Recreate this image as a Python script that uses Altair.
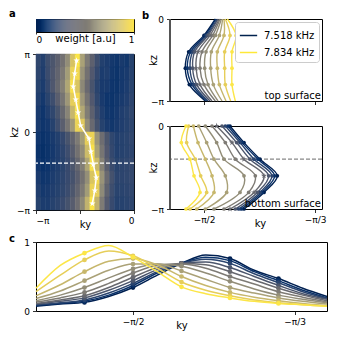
import altair as alt
import pandas as pd

# ---------------- data (k in units of pi) ----------------
# panel a: heatmap, 12 kz rows (top = pi) x 20 ky columns (-pi .. 0)
HM_ROWS = [
    [0.22, 0.18, 0.26, 0.30, 0.36, 0.45, 0.60, 0.85, 1.00, 0.70, 0.50, 0.36, 0.26, 0.18, 0.16, 0.14, 0.12, 0.15, 0.13, 0.19],
    [0.21, 0.17, 0.25, 0.31, 0.38, 0.49, 0.67, 0.92, 0.95, 0.63, 0.45, 0.32, 0.23, 0.16, 0.17, 0.13, 0.11, 0.14, 0.15, 0.19],
    [0.19, 0.16, 0.23, 0.31, 0.40, 0.53, 0.72, 0.98, 0.86, 0.57, 0.41, 0.29, 0.20, 0.15, 0.15, 0.12, 0.11, 0.14, 0.16, 0.20],
    [0.17, 0.14, 0.20, 0.26, 0.35, 0.47, 0.65, 0.90, 0.95, 0.65, 0.46, 0.32, 0.22, 0.15, 0.12, 0.11, 0.13, 0.15, 0.17, 0.21],
    [0.15, 0.12, 0.17, 0.22, 0.29, 0.40, 0.55, 0.80, 0.98, 0.73, 0.52, 0.36, 0.25, 0.17, 0.13, 0.12, 0.14, 0.17, 0.19, 0.22],
    [0.15, 0.12, 0.14, 0.19, 0.26, 0.35, 0.47, 0.66, 0.92, 0.88, 0.60, 0.41, 0.28, 0.19, 0.15, 0.13, 0.15, 0.17, 0.19, 0.21],
    [0.12, 0.10, 0.12, 0.15, 0.18, 0.23, 0.29, 0.38, 0.50, 0.67, 0.90, 0.92, 0.64, 0.43, 0.30, 0.22, 0.18, 0.19, 0.20, 0.22],
    [0.10, 0.09, 0.11, 0.14, 0.17, 0.21, 0.26, 0.34, 0.45, 0.59, 0.82, 0.98, 0.70, 0.47, 0.32, 0.23, 0.18, 0.19, 0.20, 0.21],
    [0.12, 0.10, 0.12, 0.15, 0.17, 0.20, 0.24, 0.30, 0.39, 0.52, 0.72, 0.98, 0.81, 0.54, 0.35, 0.25, 0.20, 0.21, 0.22, 0.23],
    [0.15, 0.12, 0.13, 0.16, 0.18, 0.21, 0.24, 0.28, 0.35, 0.45, 0.61, 0.86, 0.95, 0.63, 0.41, 0.28, 0.21, 0.21, 0.22, 0.23],
    [0.17, 0.14, 0.15, 0.17, 0.19, 0.22, 0.25, 0.30, 0.38, 0.49, 0.67, 0.92, 0.90, 0.58, 0.37, 0.26, 0.20, 0.20, 0.21, 0.22],
    [0.19, 0.16, 0.16, 0.19, 0.21, 0.24, 0.28, 0.34, 0.43, 0.57, 0.78, 1.00, 0.78, 0.50, 0.33, 0.24, 0.19, 0.19, 0.20, 0.21],
]
HM_KY_START, HM_KY_STEP = -1.0, 0.05
HM_KZ_START, HM_KZ_STEP = 1.0, 1.0 / 6
STAR_KY = [-0.586, -0.605, -0.620, -0.595, -0.570, -0.545, -0.460, -0.440, -0.415, -0.385, -0.400, -0.425]
DASH_KZ = -0.4

# panel b: kz samples and ky of each curve (0 = 7.518 kHz ... 10 = 7.834 kHz)
KZ_B = [0.0, -0.2, -0.4, -0.6, -0.8, -1.0]
TOP_CURVES = [
    [-0.483, -0.500, -0.523, -0.528, -0.522, -0.498],
    [-0.482, -0.498, -0.520, -0.525, -0.518, -0.496],
    [-0.480, -0.496, -0.517, -0.521, -0.515, -0.494],
    [-0.479, -0.494, -0.514, -0.517, -0.511, -0.491],
    [-0.477, -0.491, -0.509, -0.512, -0.506, -0.488],
    [-0.476, -0.487, -0.503, -0.506, -0.500, -0.483],
    [-0.474, -0.483, -0.497, -0.499, -0.494, -0.479],
    [-0.472, -0.477, -0.489, -0.490, -0.486, -0.473],
    [-0.470, -0.470, -0.480, -0.480, -0.477, -0.467],
    [-0.468, -0.461, -0.469, -0.469, -0.468, -0.460],
    [-0.465, -0.452, -0.458, -0.458, -0.458, -0.453],
]
BOT_CURVES = [
    [-0.461, -0.440, -0.416, -0.390, -0.410, -0.440],
    [-0.464, -0.443, -0.419, -0.394, -0.413, -0.444],
    [-0.468, -0.446, -0.425, -0.398, -0.416, -0.448],
    [-0.473, -0.451, -0.431, -0.403, -0.420, -0.453],
    [-0.481, -0.458, -0.440, -0.410, -0.425, -0.461],
    [-0.488, -0.468, -0.453, -0.423, -0.433, -0.470],
    [-0.498, -0.481, -0.470, -0.440, -0.446, -0.485],
    [-0.508, -0.496, -0.485, -0.468, -0.466, -0.498],
    [-0.516, -0.509, -0.498, -0.488, -0.485, -0.511],
    [-0.523, -0.526, -0.513, -0.505, -0.496, -0.521],
    [-0.527, -0.534, -0.521, -0.515, -0.506, -0.527],
]
STAR_CURVE = 4
LEGEND_LABELS = ["7.518 kHz", "7.834 kHz"]

# panel c: weight vs ky for each curve
C_KY = [-0.600, -0.575, -0.550, -0.525, -0.500, -0.475, -0.450, -0.425, -0.400, -0.375, -0.350, -0.325, -0.300]
C_DOT_KY = [-0.550, -0.500, -0.450, -0.400, -0.350]
C_CURVES = [
    [0.07, 0.10, 0.125, 0.21, 0.34, 0.52, 0.69, 0.81, 0.76, 0.59, 0.47, 0.33, 0.21],
    [0.08, 0.11, 0.14, 0.23, 0.37, 0.55, 0.69, 0.78, 0.73, 0.57, 0.44, 0.30, 0.19],
    [0.09, 0.12, 0.16, 0.26, 0.40, 0.57, 0.69, 0.75, 0.69, 0.54, 0.41, 0.28, 0.18],
    [0.10, 0.14, 0.19, 0.30, 0.44, 0.60, 0.69, 0.71, 0.63, 0.50, 0.37, 0.25, 0.17],
    [0.11, 0.16, 0.22, 0.34, 0.49, 0.63, 0.69, 0.67, 0.57, 0.45, 0.33, 0.23, 0.15],
    [0.13, 0.19, 0.27, 0.40, 0.55, 0.66, 0.68, 0.62, 0.50, 0.39, 0.28, 0.20, 0.13],
    [0.15, 0.23, 0.34, 0.48, 0.61, 0.68, 0.65, 0.55, 0.43, 0.32, 0.23, 0.17, 0.12],
    [0.18, 0.29, 0.44, 0.59, 0.68, 0.68, 0.58, 0.46, 0.34, 0.26, 0.19, 0.14, 0.10],
    [0.22, 0.38, 0.57, 0.72, 0.76, 0.67, 0.50, 0.37, 0.27, 0.20, 0.15, 0.11, 0.08],
    [0.28, 0.52, 0.74, 0.87, 0.80, 0.62, 0.42, 0.30, 0.22, 0.16, 0.12, 0.09, 0.07],
    [0.33, 0.66, 0.84, 0.95, 0.78, 0.57, 0.35, 0.25, 0.19, 0.14, 0.11, 0.09, 0.07],
]

# ---------------- style ----------------
FONT = "DejaVu Sans"
NAVY, YELLOW = "#00224e", "#fee838"
STAR = ("M0,-1L0.2245,-0.309L0.951,-0.309L0.363,0.118L0.588,0.809L0,0.382"
        "L-0.588,0.809L-0.363,0.118L-0.951,-0.309L-0.2245,-0.309Z")
N = len(TOP_CURVES)
civ = alt.Scale(scheme="cividis", domain=[0, N - 1])
wscale = alt.Scale(scheme="cividis", domain=[0, 1])


def letter(text, dx, dy):
    return alt.Chart(pd.DataFrame({"t": [text]})).mark_text(
        align="left", baseline="alphabetic", fontSize=10, fontWeight="bold", font=FONT, color="black"
    ).encode(text="t:N", x=alt.value(dx), y=alt.value(dy))


# ---------------- panel a ----------------
cb_rect = alt.Chart(alt.sequence(0, 1, 0.01, as_="w")).transform_calculate(
    w2="datum.w + 0.011"
).mark_rect(strokeWidth=0).encode(
    x=alt.X("w:Q", scale=alt.Scale(domain=[0, 1], nice=False),
            axis=alt.Axis(values=[0, 1], format="d", title="weight [a.u]", tickSize=2,
                          labelPadding=1, titleY=9, titleBaseline="alphabetic")),
    x2="w2:Q",
    color=alt.Color("w:Q", scale=wscale, legend=None),
)
cb = alt.layer(cb_rect, letter("a", -27, -2)).properties(width=98, height=13)

hm_records = []
for i, row in enumerate(HM_ROWS):
    for j, w in enumerate(row):
        hm_records.append({
            "ky0": HM_KY_START + j * HM_KY_STEP, "ky1": HM_KY_START + (j + 1) * HM_KY_STEP,
            "kz0": HM_KZ_START - i * HM_KZ_STEP, "kz1": HM_KZ_START - (i + 1) * HM_KZ_STEP, "w": w})
hm_df = pd.DataFrame(hm_records)

hm_rect = alt.Chart(hm_df).mark_rect(strokeWidth=0.5).encode(
    x=alt.X("ky0:Q", scale=alt.Scale(domain=[-1, 0], nice=False, zero=False),
            axis=alt.Axis(values=[-1, -0.55, 0],
                          labelExpr="datum.value == -1 ? '−π' : (datum.value == 0 ? '0' : '')",
                          title="ky", titleY=17, titleBaseline="alphabetic")),
    x2="ky1:Q",
    y=alt.Y("kz0:Q", scale=alt.Scale(domain=[-1, 1], nice=False, zero=False),
            axis=alt.Axis(values=[-1, 0, 1],
                          labelExpr="datum.value == 1 ? 'π' : (datum.value == 0 ? '0' : '−π')",
                          title="kz", titlePadding=-3)),
    y2="kz1:Q",
    color=alt.Color("w:Q", scale=wscale, legend=None),
    stroke=alt.Stroke("w:Q", scale=wscale, legend=None),
)
star_df = pd.DataFrame({"kz": [HM_KZ_START - (i + 0.5) * HM_KZ_STEP for i in range(len(STAR_KY))],
                        "ky": STAR_KY})
star_line = alt.Chart(star_df).mark_line(color="white", strokeWidth=1.5).encode(
    x="ky:Q", y="kz:Q", order="kz:Q")
star_pts = alt.Chart(star_df).mark_point(shape=STAR, filled=True, color="white", size=45, opacity=1).encode(
    x="ky:Q", y="kz:Q")
hm_dash = alt.Chart(pd.DataFrame({"kz": [DASH_KZ]})).mark_rule(
    color="white", strokeDash=[4, 2], strokeWidth=1.2).encode(y="kz:Q")
hm = alt.layer(hm_rect, hm_dash, star_line, star_pts).properties(width=98, height=156)


# ---------------- panel b ----------------
def curve_df(curves):
    rec = []
    for c, kys in enumerate(curves):
        for k, (kz, ky) in enumerate(zip(KZ_B, kys)):
            rec.append({"c": c, "kz": kz, "ky": ky, "k": k, "star": c == STAR_CURVE})
    return pd.DataFrame(rec)


B_W, B_H_TOP, B_H_BOT = 152, 82, 83
B_XSCALE = alt.Scale(domain=[-0.551, -0.323], nice=False, zero=False)
B_YSCALE = alt.Scale(domain=[-1, 0], nice=False, zero=False)
B_YAXIS = alt.Axis(values=[-1, 0], labelExpr="datum.value == 0 ? '0' : '−π'", title="kz", titlePadding=-8)


def left_spine(h):
    return alt.Chart(pd.DataFrame({"s": [0]})).mark_rule(color="#555555", strokeWidth=2).encode(
        x=alt.value(0), y=alt.value(0), y2=alt.value(h))


def b_panel(curves, show_labels, text, dot_filter, h):
    df = curve_df(curves)
    xaxis = alt.Axis(values=[-0.5, -1 / 3],
                     labelExpr="datum.value == -0.5 ? '−π/2' : '−π/3'",
                     labels=show_labels,
                     title="ky" if show_labels else None,
                     titleX=90, titleY=17, titleBaseline="alphabetic")
    base = alt.Chart(df).encode(
        x=alt.X("ky:Q", scale=B_XSCALE, axis=xaxis),
        y=alt.Y("kz:Q", scale=B_YSCALE, axis=B_YAXIS),
        color=alt.Color("c:Q", scale=civ, legend=None),
    )
    lines = base.mark_line(interpolate="catmull-rom", strokeWidth=1.4).encode(
        detail="c:N", order="k:Q")
    dots = base.mark_circle(size=14, opacity=1).transform_filter(dot_filter).transform_filter(
        "!datum.star")
    stars = base.mark_point(shape=STAR, filled=True, size=40, opacity=1).transform_filter(
        dot_filter).transform_filter("datum.star")
    label = alt.Chart(pd.DataFrame({"t": [text]})).mark_text(
        align="right", baseline="bottom", fontSize=10, font=FONT, color="black"
    ).encode(text="t:N", x=alt.value(B_W - 1), y=alt.value(h))
    return [lines, dots, stars, label, left_spine(h)]


top_layers = b_panel(TOP_CURVES, False, "top surface", "datum.kz < 0 && datum.kz > -1", B_H_TOP)
legend_df = pd.DataFrame({"lab": LEGEND_LABELS, "ky": [-0.5, -0.5], "kz": [0.0, 0.0]})
legend_layer = alt.Chart(legend_df).mark_line(strokeWidth=1.5).encode(
    x=alt.X("ky:Q", scale=B_XSCALE),
    y=alt.Y("kz:Q", scale=B_YSCALE),
    stroke=alt.Stroke("lab:N", scale=alt.Scale(domain=LEGEND_LABELS, range=[NAVY, YELLOW]),
                      legend=alt.Legend(title=None, orient="top-right", symbolType="stroke",
                                        symbolStrokeWidth=1.5, symbolSize=300, labelFontSize=10,
                                        labelFont=FONT, strokeColor="#cccccc", fillColor="white",
                                        padding=4, cornerRadius=3, offset=3, rowPadding=2,
                                        labelOffset=6)),
)
btop = alt.layer(*top_layers, legend_layer, letter("b", -28, 0)).resolve_scale(
    color="independent", stroke="independent").properties(width=B_W, height=B_H_TOP)

bot_layers = b_panel(BOT_CURVES, True, "bottom surface", "datum.kz <= 0", B_H_BOT)
b_dash = alt.Chart(pd.DataFrame({"kz": [DASH_KZ]})).mark_rule(
    color="#888888", strokeDash=[4, 2], strokeWidth=1.2).encode(y=alt.Y("kz:Q", scale=B_YSCALE))
bbot = alt.layer(b_dash, *bot_layers).properties(width=B_W, height=B_H_BOT)

# ---------------- panel c ----------------
c_rec = []
for c, ws in enumerate(C_CURVES):
    for ky, w in zip(C_KY, ws):
        c_rec.append({"c": c, "ky": ky, "w": w, "dot": any(abs(ky - d) < 1e-9 for d in C_DOT_KY)})
c_df = pd.DataFrame(c_rec)
c_base = alt.Chart(c_df).encode(
    x=alt.X("ky:Q", scale=alt.Scale(domain=[-0.60, -0.30], nice=False, zero=False),
            axis=alt.Axis(values=[-0.5, -1 / 3],
                          labelExpr="datum.value == -0.5 ? '−π/2' : '−π/3'",
                          title="ky", titleY=17, titleBaseline="alphabetic")),
    y=alt.Y("w:Q", scale=alt.Scale(domain=[0, 1], nice=False),
            axis=alt.Axis(values=[0, 1], format="d", title=None)),
    color=alt.Color("c:Q", scale=civ, legend=None),
)
c_lines = c_base.mark_line(interpolate="monotone", strokeWidth=1.5).encode(detail="c:N")
c_dots = c_base.mark_circle(size=22, opacity=1).transform_filter("datum.dot")
cpanel = alt.layer(c_lines, c_dots, letter("c", -27, 0)).properties(width=291, height=69)

# ---------------- layout ----------------
RES = dict(color="independent", stroke="independent")
a_stack = alt.vconcat(cb, hm, spacing=4).resolve_scale(**RES)
b_stack = alt.vconcat(btop, bbot, spacing=14).resolve_scale(**RES)
row1 = alt.hconcat(a_stack, b_stack, spacing=5).resolve_scale(**RES)
chart = alt.vconcat(row1, cpanel, spacing=3).resolve_scale(**RES).properties(padding=0).configure(
    font=FONT
).configure_view(
    stroke="black", strokeWidth=1
).configure_axis(
    domain=False, grid=False, tickColor="black", tickWidth=0.8, tickSize=3.5,
    labelPadding=3, labelFont=FONT, labelFontSize=9, labelColor="black",
    titleFont=FONT, titleFontSize=10, titleFontWeight="normal", titleColor="black",
)

chart.save("out.html", embed_options={"renderer": "svg", "actions": False})
